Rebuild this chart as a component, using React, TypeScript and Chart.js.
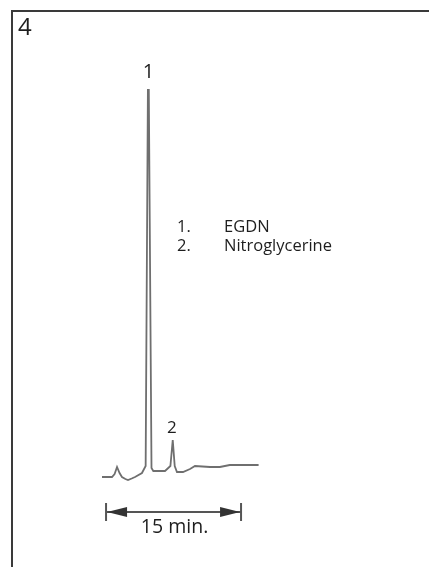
import React, { useEffect, useRef } from "react";
import { Chart, registerables } from "chart.js";

Chart.register(...registerables);

// Retention time in minutes (relative to start of trace)
const times: number[] = [
  0, 1.11, 1.4, 1.67, 1.95, 2.22, 2.6, 2.89, 3.3, 3.67, 4.44, 4.85, 5.1, 5.2, 5.5, 5.7,
  7.0, 7.6, 7.86, 8.08, 8.33, 9.0, 9.78, 10.33, 12.0, 13.1, 14.2, 17.4,
];
// Detector response (arbitrary units)
const response: number[] = [
  3, 3, 6, 13, 7, 3, 1, 0, 1.5, 3, 7, 14, 390, 390, 12, 9,
  9, 14, 40, 14, 8, 8, 11, 14, 13, 13, 15, 15,
];

const peakLabels: string[] = ["1", "2"];
const peakTimes: number[] = [5.15, 7.86];
const peakHeights: number[] = [390, 40];

const legendNumbers: string[] = ["1.", "2."];
const legendNames: string[] = ["EGDN", "Nitroglycerine"];

const panelLabel = "4";
const scaleBarStart = 0.45;
const scaleBarMinutes = 15;
const scaleBarText = "15 min.";

const FONT = "'Open Sans', 'DejaVu Sans', sans-serif";

const decorPlugin = {
  id: "decor",
  afterDraw(chart: any) {
    const ctx = chart.ctx as CanvasRenderingContext2D;
    const xs = chart.scales.x;
    const ys = chart.scales.y;
    ctx.save();
    // frame
    ctx.strokeStyle = "#3a3a3a";
    ctx.lineWidth = 2;
    ctx.beginPath();
    ctx.moveTo(12, 567);
    ctx.lineTo(12, 11);
    ctx.lineTo(429, 11);
    ctx.stroke();

    ctx.fillStyle = "#1e1e1e";
    ctx.textBaseline = "alphabetic";
    // panel label
    ctx.font = `24px ${FONT}`;
    ctx.textAlign = "left";
    ctx.fillText(panelLabel, 18, 35);

    // peak labels
    peakLabels.forEach((lab, i) => {
      const px = xs.getPixelForValue(peakTimes[i]);
      const py = ys.getPixelForValue(peakHeights[i]);
      ctx.font = `${i === 0 ? 20 : 17}px ${FONT}`;
      ctx.textAlign = "center";
      ctx.fillText(lab, px + (i === 0 ? 0 : -1), py - (i === 0 ? 12 : 7));
    });

    // legend
    ctx.font = `16.5px ${FONT}`;
    ctx.textAlign = "left";
    legendNumbers.forEach((n, i) => {
      const by = 232 + i * 18.5;
      ctx.fillText(n, 177, by);
      ctx.fillText(legendNames[i], 224, by);
    });

    // scale bar
    const x1 = xs.getPixelForValue(scaleBarStart);
    const x2 = xs.getPixelForValue(scaleBarStart + scaleBarMinutes);
    const yb = 512;
    ctx.strokeStyle = "#555";
    ctx.lineWidth = 2;
    ctx.beginPath();
    ctx.moveTo(x1, yb);
    ctx.lineTo(x2, yb);
    ctx.moveTo(x1, yb - 9);
    ctx.lineTo(x1, yb + 9);
    ctx.moveTo(x2, yb - 9);
    ctx.lineTo(x2, yb + 9);
    ctx.stroke();
    ctx.fillStyle = "#333";
    ctx.beginPath();
    ctx.moveTo(x1 + 1, yb);
    ctx.lineTo(x1 + 21, yb - 5);
    ctx.lineTo(x1 + 21, yb + 5);
    ctx.closePath();
    ctx.fill();
    ctx.beginPath();
    ctx.moveTo(x2 - 1, yb);
    ctx.lineTo(x2 - 21, yb - 5);
    ctx.lineTo(x2 - 21, yb + 5);
    ctx.closePath();
    ctx.fill();
    ctx.fillStyle = "#1e1e1e";
    ctx.font = `19.5px ${FONT}`;
    ctx.textAlign = "center";
    ctx.fillText(scaleBarText, (x1 + x2) / 2 + 1, 533);
    ctx.restore();
  },
};

export default function App() {
  const ref = useRef<HTMLCanvasElement | null>(null);
  useEffect(() => {
    if (!ref.current) return;
    const chart = new Chart(ref.current, {
      type: "line",
      data: {
        datasets: [
          {
            data: times.map((t, i) => ({ x: t, y: response[i] })),
            borderColor: "#6f6f6f",
            borderWidth: 1.8,
            pointRadius: 0,
            tension: 0,
            fill: false,
          },
        ],
      },
      options: {
        responsive: false,
        animation: false,
        devicePixelRatio: 1,
        layout: { padding: { left: 12, right: 3, top: 12, bottom: 0 } },
        plugins: { legend: { display: false }, tooltip: { enabled: false }, title: { display: false } },
        scales: {
          x: { type: "linear", min: -10, max: 36, display: false },
          y: { type: "linear", min: -87, max: 468, display: false },
        },
      },
      plugins: [decorPlugin],
    });
    return () => chart.destroy();
  }, []);
  return (
    <div style={{ position: "absolute", left: 0, top: 0, width: 429, height: 567, background: "#fff" }}>
      <canvas ref={ref} width={429} height={567} />
    </div>
  );
}
